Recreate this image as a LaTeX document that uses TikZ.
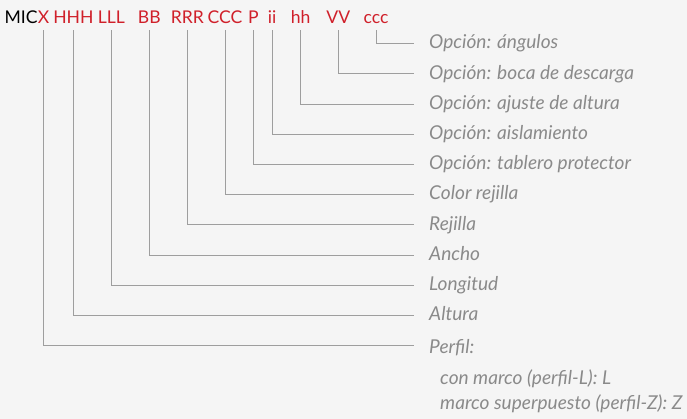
\documentclass[tikz,border=0pt]{standalone}
\usepackage{fontspec}
\setmainfont{Lato}
\usetikzlibrary{positioning}
\definecolor{codered}{HTML}{D0202A}
\definecolor{leadgray}{HTML}{9E9E9E}
\definecolor{textgray}{HTML}{8A8A8A}
\definecolor{bggray}{HTML}{F5F5F5}

\begin{document}
\begin{tikzpicture}[
    x=0.03cm, y=-0.03cm,
    every node/.style={font=\fontsize{15}{18}\selectfont},
    code/.style={anchor=base, inner xsep=0pt, inner ysep=5.5pt, text depth=0pt, text=codered},
    lbl/.style={anchor=west, inner xsep=0.45cm, inner ysep=0pt, text height=0.92em, text depth=0pt, text=textgray, font=\fontsize{16.3}{19}\selectfont\itshape},
    sublbl/.style={anchor=base west, inner sep=0pt, text=textgray, font=\fontsize{16.3}{19}\selectfont\itshape},
    lead/.style={draw=leadgray, line width=0.7pt},
]
\fill[bggray] (0,0) rectangle (687,419);
% type code
\node[code] (cX) at (43.7,23.5) {X};
\node[code, text=black, base left=0pt of cX] (cMIC) {MIC};
\node[code] (cHHH) at (73.4,23.5) {HHH};
\node[code] (cLLL) at (111.3,23.5) {LLL};
\node[code] (cBB) at (149.3,23.5) {BB};
\node[code] (cRRR) at (187.3,23.5) {RRR};
\node[code] (cCCC) at (225,23.5) {CCC};
\node[code] (cP) at (253.3,23.5) {P};
\node[code] (cii) at (272,23.5) {ii};
\node[code] (chh) at (300.7,23.5) {hh};
\node[code] (cVV) at (338.3,23.5) {VV};
\node[code] (cccc) at (376,23.5) {ccc};
% labels
\node[lbl] (lccc) at (414,43.5) {Opción: ángulos};
\node[lbl] (lVV) at (414,73.7) {Opción: boca de descarga};
\node[lbl] (lhh) at (414,104) {Opción: ajuste de altura};
\node[lbl] (lii) at (414,134.2) {Opción: aislamiento};
\node[lbl] (lP) at (414,164.4) {Opción: tablero protector};
\node[lbl] (lCCC) at (414,194.6) {Color rejilla};
\node[lbl] (lRRR) at (414,224.8) {Rejilla};
\node[lbl] (lBB) at (414,255) {Ancho};
\node[lbl] (lLLL) at (414,285.2) {Longitud};
\node[lbl] (lHHH) at (414,315.4) {Altura};
\node[lbl, text height=1.33em] (lX) at (414,345.6) {Perfil:};
\node[sublbl] (lXa) at (440,384.3) {con marco (perfil-L): L};
\node[sublbl] (lXb) at (440,409.3) {marco superpuesto (perfil-Z): Z};
% leaders
\draw[lead] (cccc.south) |- (lccc.west);
\draw[lead] (cVV.south) |- (lVV.west);
\draw[lead] (chh.south) |- (lhh.west);
\draw[lead] (cii.south) |- (lii.west);
\draw[lead] (cP.south) |- (lP.west);
\draw[lead] (cCCC.south) |- (lCCC.west);
\draw[lead] (cRRR.south) |- (lRRR.west);
\draw[lead] (cBB.south) |- (lBB.west);
\draw[lead] (cLLL.south) |- (lLLL.west);
\draw[lead] (cHHH.south) |- (lHHH.west);
\draw[lead] (cX.south) |- (lX.west);
\end{tikzpicture}
\end{document}
